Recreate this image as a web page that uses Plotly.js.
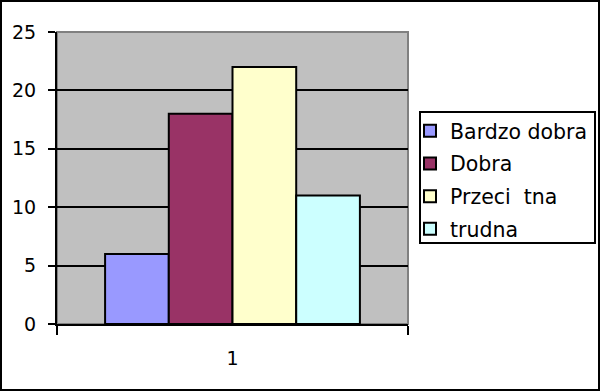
<!DOCTYPE html>
<html><head><meta charset="utf-8">
<script src="https://cdn.plot.ly/plotly-3.0.1.min.js"></script>
<style>html,body{margin:0;padding:0;background:#fff}</style>
</head><body>
<div id="chart" style="width:600px;height:391px"></div>
<script>
const categories = ["1"];
const seriesNames = ["Bardzo dobra", "Dobra", "Przeci\u00a0\u00a0tna", "trudna"];
const seriesValues = [[6], [18], [22], [11]];
const seriesColors = ["#9999FF", "#993366", "#FFFFCC", "#CCFFFF"];
const yTicks = [0, 5, 10, 15, 20, 25];

const W = 600, H = 391;
const m = {l: 57, r: 192, t: 32, b: 67, autoexpand: false};
const pw = W - m.l - m.r, ph = H - m.t - m.b;
const FONT = "DejaVu Sans, Arial, sans-serif";
const px = v => (v - m.l) / pw;
const py = v => (H - m.b - v) / ph;

const traces = seriesNames.map((n, i) => ({
  type: "bar", name: n, x: categories, y: seriesValues[i],
  legendgroup: "g" + i,
  marker: {color: seriesColors[i], line: {color: "#000", width: 2}},
  hoverinfo: "none"
}));

const layout = {
  width: W, height: H, margin: m,
  paper_bgcolor: "#fff", plot_bgcolor: "#C0C0C0",
  font: {family: FONT, size: 19, color: "#000"},
  barmode: "group", bargap: 0.274, bargroupgap: 0,
  showlegend: true,
  legend: {x: px(410), y: py(111), xanchor: "left", yanchor: "top",
    bgcolor: "rgba(0,0,0,0)", borderwidth: 0,
    font: {family: FONT, size: 20.5}, traceorder: "grouped", tracegroupgap: 3},
  xaxis: {type: "category", showgrid: false, showline: true, linecolor: "#000", linewidth: 2,
    ticks: "outside", tickson: "boundaries", ticklen: 9, tickwidth: 2, tickcolor: "#000",
    ticklabelstandoff: 16, zeroline: false},
  yaxis: {range: [0, 25], tickvals: yTicks, ticktext: yTicks.map(String),
    showgrid: true, gridcolor: "#000", gridwidth: 2, zeroline: false,
    showline: true, linecolor: "#000", linewidth: 2,
    ticks: "outside", ticklen: 7, tickwidth: 2, tickcolor: "#000", ticklabelstandoff: 8},
  shapes: [
    {type: "rect", xref: "paper", yref: "paper", x0: 0, x1: 1, y0: 0, y1: 1,
     line: {color: "#808080", width: 2}, layer: "below"},
    {type: "rect", xref: "paper", yref: "paper",
     x0: px(420), x1: px(595), y0: py(243), y1: py(112),
     fillcolor: "#fff", line: {color: "#000", width: 2}, layer: "above"},
    {type: "rect", xref: "paper", yref: "paper",
     x0: px(1), x1: px(599), y0: py(390), y1: py(1),
     line: {color: "#000", width: 2}, layer: "above"}
  ]
};

Plotly.newPlot("chart", traces, layout, {displayModeBar: false, staticPlot: true});
</script>
</body></html>
